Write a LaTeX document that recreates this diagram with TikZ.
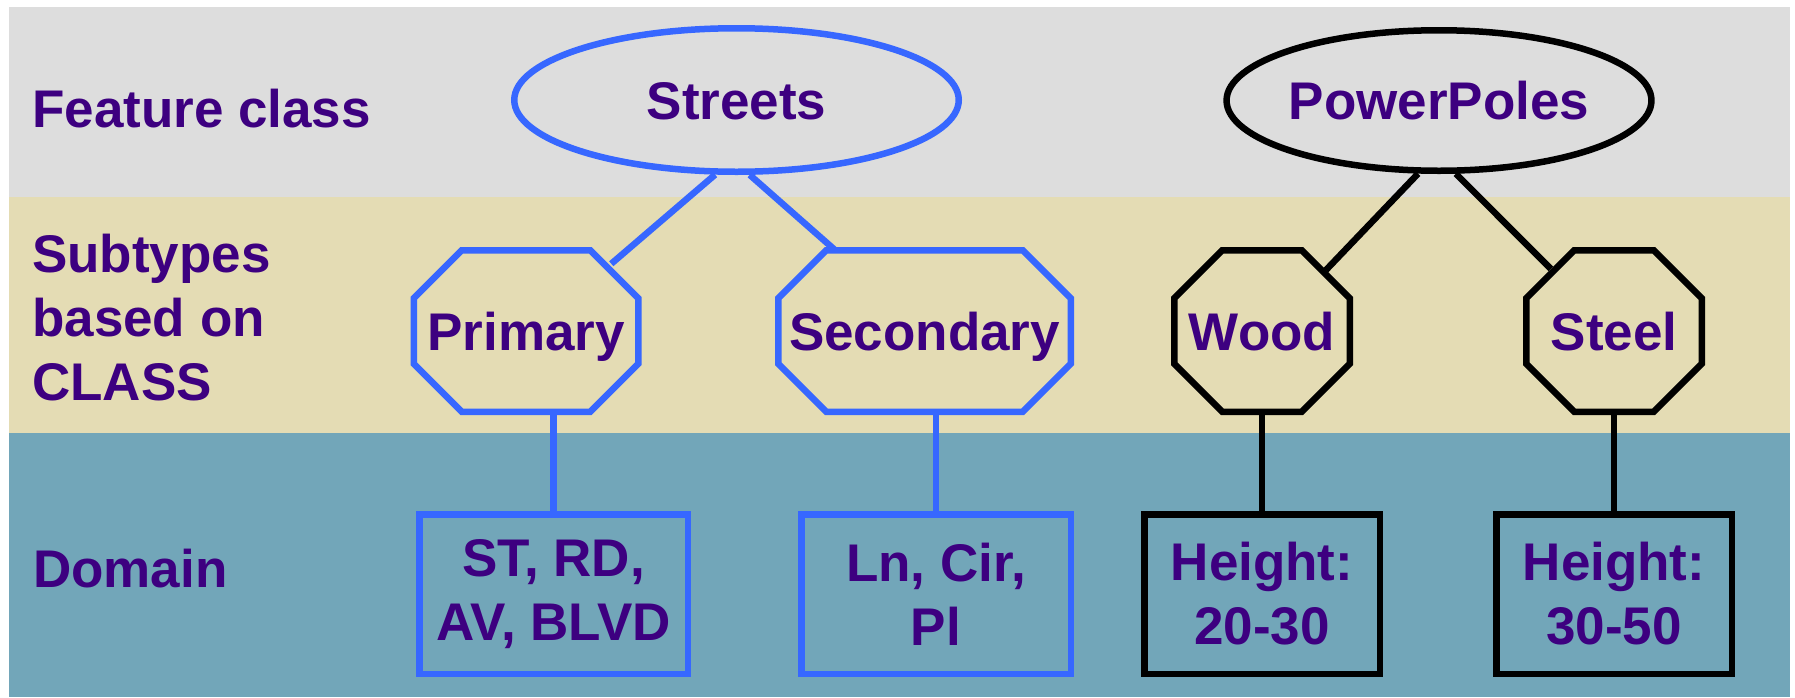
\documentclass[tikz,border=0pt]{standalone}
\usepackage{fontspec}
\setmainfont{Liberation Sans}
\usetikzlibrary{shapes.geometric,calc}

\definecolor{bandgray}{HTML}{DDDDDD}
\definecolor{bandtan}{HTML}{E4DCB4}
\definecolor{bandteal}{HTML}{72A6B9}
\definecolor{ink}{HTML}{3D0080}
\definecolor{linkblue}{HTML}{3767FF}

% octagonal outline around a rectangular node, corners cut at 45 degrees
\newcommand\octoutline[2]{%
  \draw[#2, line width=6.5pt, line join=miter]
    ($(#1.north west)+(48,0)$) -- ($(#1.north east)+(-48,0)$)
    -- ($(#1.north east)+(0,48)$) -- ($(#1.south east)+(0,-48)$)
    -- ($(#1.south east)+(-48,0)$) -- ($(#1.south west)+(48,0)$)
    -- ($(#1.south west)+(0,-48)$) -- ($(#1.north west)+(0,48)$) -- cycle;}

\begin{document}
\begin{tikzpicture}[x=1pt,y=-1pt,
  every node/.style={font=\fontsize{53}{64}\selectfont\bfseries, text=ink},
  rowlabel/.style={anchor=base west, align=left, inner sep=0pt},
  classnode/.style={ellipse, draw, line width=6.5pt, inner sep=0pt,
    text height=38pt, text depth=0pt},
  subnode/.style={rectangle, inner sep=0pt, outer sep=0pt,
    minimum height=161.5pt, text height=38pt, text depth=0pt},
  domnode/.style={rectangle, draw, line width=6.5pt, align=center,
    inner sep=0pt, minimum height=159.5pt},
  link/.style={line width=6.5pt},
  streetset/.style={draw=linkblue},
  poleset/.style={draw=black}
]
\useasboundingbox (0,0) rectangle (1795,697);

% horizontal bands
\fill[bandgray] (9,7)   rectangle (1790,197);
\fill[bandtan]  (9,197) rectangle (1790,433);
\fill[bandteal] (9,433) rectangle (1790,697);

% row labels
\node[rowlabel] (lfeat) at (32,127) {Feature class};
\node[rowlabel] (lsub)  at (32,400) {Subtypes\\based on\\CLASS};
\node[rowlabel] (ldom)  at (33,587) {Domain};

% feature classes
\node[classnode, streetset, minimum width=444.5pt, minimum height=143.5pt]
  (streets) at (736.5,100) {Streets};
\node[classnode, poleset, minimum width=387.5pt, minimum height=140.5pt]
  (poles) at (1439,100.5) {PowerPoles};

% subtypes
\node[subnode, minimum width=224.5pt] (primary)   at (526,331)   {Primary};
\node[subnode, minimum width=292.5pt] (secondary) at (924.5,331) {Secondary};
\node[subnode, minimum width=175.5pt] (wood)      at (1262,331)  {Wood};
\node[subnode, minimum width=175.5pt] (steel)     at (1614,331)  {Steel};
\octoutline{primary}{linkblue}
\octoutline{secondary}{linkblue}
\octoutline{wood}{black}
\octoutline{steel}{black}

% points where the upper connectors meet the octagons
\coordinate (primary-in)   at ($(primary.north east)+(-27,13.5)$);
\coordinate (secondary-in) at ($(secondary.north west)+(57,0)$);
\coordinate (wood-in)      at ($(wood.north east)+(-24,20)$);
\coordinate (steel-in)     at ($(steel.north west)+(24.5,18.5)$);

% domains
\node[domnode, streetset, minimum width=268.5pt] (dprimary)   at (553.5,594) {ST, RD,\\AV, BLVD};
\node[domnode, streetset, minimum width=269.5pt] (dsecondary) at (936,594)   {Ln, Cir,\\Pl};
\node[domnode, poleset,   minimum width=235.5pt] (dwood)      at (1262,594)  {Height:\\20-30};
\node[domnode, poleset,   minimum width=235.5pt] (dsteel)     at (1614,594)  {Height:\\30-50};

% connectors
\draw[link, linkblue] (streets.254) -- (primary-in);
\draw[link, linkblue] (streets.280) -- (secondary-in);
\draw[link, black] (poles.254.5) -- (wood-in);
\draw[link, black] (poles.283.6) -- (steel-in);

\draw[link, linkblue] (dprimary.north)   -- (dprimary.north |- primary.south);
\draw[link, linkblue] (dsecondary.north) -- (dsecondary.north |- secondary.south);
\draw[link, black] (dwood.north)  -- (dwood.north |- wood.south);
\draw[link, black] (dsteel.north) -- (dsteel.north |- steel.south);
\end{tikzpicture}
\end{document}
